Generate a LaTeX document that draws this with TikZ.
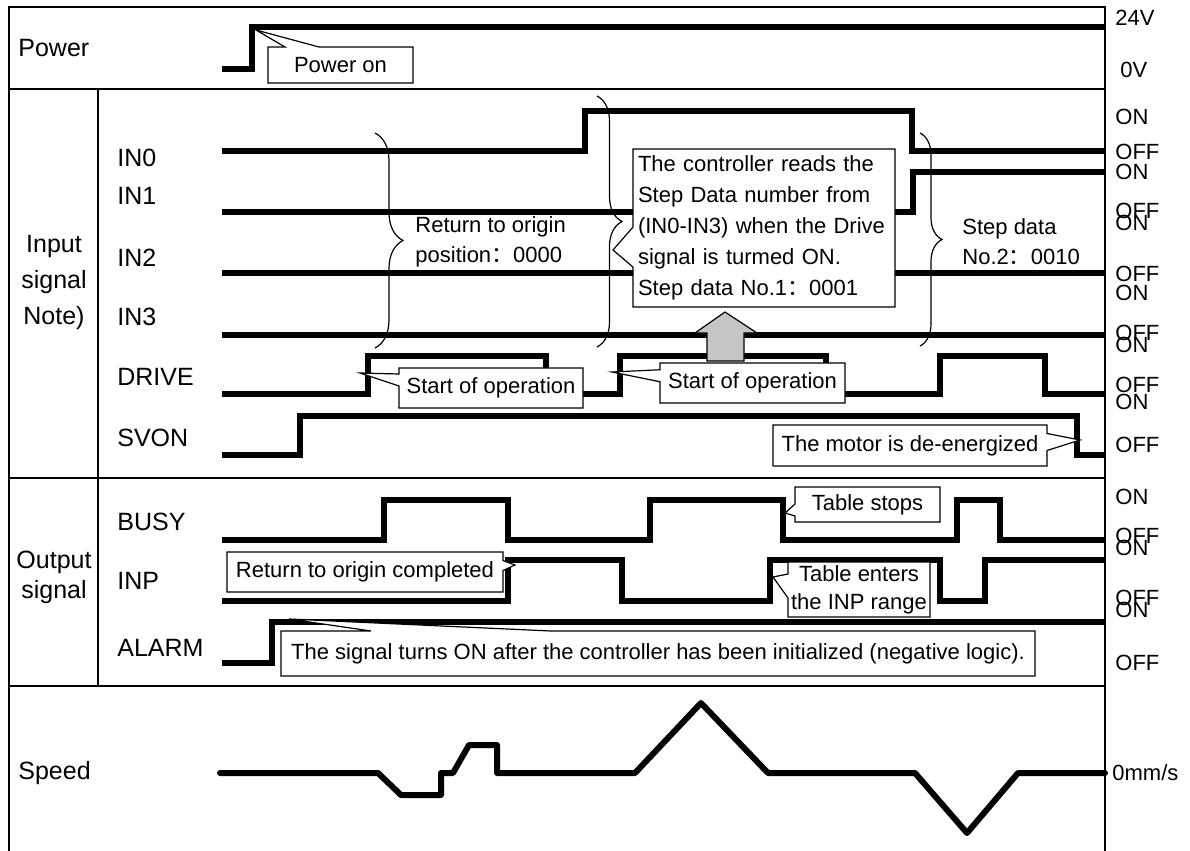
\documentclass[tikz,border=0pt]{standalone}
\usepackage{fontspec}
\setmainfont{Liberation Sans}
\newfontfamily\cjk{Noto Sans CJK SC}
\usetikzlibrary{shapes.callouts,decorations.pathreplacing}
\newcommand{\fwc}{{\cjk ：}}

\tikzset{
  sig/.style={line width=3pt,line join=miter},
  speed/.style={line width=3pt,line join=round,line cap=round},
  frame/.style={line width=0.8pt},
  lab/.style={anchor=base west,inner sep=0pt,font=\fontsize{12.5}{18}\selectfont},
  grp/.style={align=center,inner sep=0pt,font=\fontsize{12.5}{18}\selectfont},
  lvl/.style={anchor=base west,inner sep=0pt,font=\fontsize{11}{12}\selectfont},
  note/.style={rectangle callout,draw,line width=0.6pt,fill=white,inner sep=2pt,
    font=\fontsize{11}{14}\selectfont},
  curly/.style={decorate,line width=0.6pt},
  brtxt/.style={anchor=west,align=left,inner sep=0pt,font=\fontsize{11}{15}\selectfont},
}

\begin{document}
\begin{tikzpicture}[x=0.5pt,y=-0.5pt]
  \useasboundingbox (0,0) rectangle (1190,851);
  % frame
  \draw[frame] (9,851) -- (9,7) -- (1105,7) -- (1105,851);
  \foreach \y in {89,478,686}{\draw[frame] (9,\y) -- (1105,\y);}
  \draw[frame] (98,89) -- (98,686);

  % group labels
  \node[lab] (power) at (18,56) {Power};
  \node[grp] (insig) at (54,282) {Input\\signal\\Note)};
  \node[grp,font=\fontsize{12.5}{15}\selectfont] (outsig) at (54,577) {Output\\signal};
  \node[lab] (speed) at (18,779) {Speed};
  \foreach \n/\y in {IN0/166,IN1/204,IN2/266,IN3/325,DRIVE/385,SVON/446,BUSY/530,INP/589,ALARM/656}
    \node[lab] (\n) at (117,\y) {\n};

  % levels
  \foreach \x/\y/\t [count=\i] in {1115/25.5/24V,1120/77.5/0V,
      1115/124.5/ON,1115/159.5/OFF,1115/179.5/ON,1115/218.5/OFF,1115/230.5/ON,1115/281.5/OFF,
      1115/300.5/ON,1115/340.5/OFF,1115/352.5/ON,1115/392.5/OFF,1115/409.5/ON,1115/452.5/OFF,
      1115/504.5/ON,1115/543.5/OFF,1115/555.5/ON,1115/605.5/OFF,1115/617.5/ON,1115/670.5/OFF}
    \node[lvl] (lv\i) at (\x,\y) {\t};
  \node[lvl] (lvspeed) at (1112,780.5) {0mm/s};

  % signals
  \draw[sig] (222,69) -| (252,27) -- (1105,27);
  \draw[sig] (222,151) -| (585,111) -| (912,151) -- (1105,151);
  \draw[sig] (222,212) -| (913,172) -- (1105,172);
  \draw[sig] (222,273) -- (1105,273);
  \draw[sig] (222,335) -- (1105,335);
  \draw[sig] (222,394) -| (368,356) -| (546,394) -| (620,356) -| (826,394) -| (940,356) -| (1045,394) -- (1105,394);
  \draw[sig] (222,455) -| (300,416) -| (1077,455) -- (1105,455);
  \draw[sig] (222,540) -| (384,500) -| (508,540) -| (650,500) -| (783,540) -| (957,500) -| (1000,540) -- (1105,540);
  \draw[sig] (222,601) -| (508,560) -| (622,601) -| (770,560) -| (940,601) -| (985,560) -- (1105,560);
  \draw[sig] (222,663) -| (272,622) -- (1105,622);
  \draw[speed] (220,773) -- (378,773) -- (401,795) -- (441,795) -- (441,773) -- (453,773)
    -- (469,745) -- (497,745) -- (497,773) -- (635,773) -- (701,703) -- (768,773)
    -- (915,773) -- (967,833) -- (1018,773) -- (1105,773);

  % braces
  \draw[curly,decoration={brace,amplitude=14pt}] (375,133) -- (375,348);
  \draw[curly,decoration={brace,amplitude=12.5pt}] (597,96) -- (597,347);
  \draw[curly,decoration={brace,amplitude=11pt}] (920,133) -- (920,346);
  \node[brtxt] (origin) at (415,242) {Return to origin\\position\fwc 0000};
  \node[brtxt] (step2) at (962,242) {Step data\\No.2\fwc 0010};

  % arrow to the note
  \draw[fill=gray!45,line width=0.6pt] (707,361) -- (707,333) -- (695,333) -- (725,312)
    -- (757,333) -- (744,333) -- (744,361) -- cycle;

  % notes
  \node[note,minimum width=72.5pt,minimum height=18pt,callout absolute pointer={(256,30)},
    callout pointer width=17pt] (pwron) at (340.5,65) {Power on};
  \node[note,text width=126pt,align=left,minimum height=79pt,inner sep=2.5pt,
    font=\fontsize{11}{15.5}\selectfont,callout absolute pointer={(613,250)},
    callout pointer width=20pt] (reads) at (764,228)
    {The controller reads the\\Step Data number from\\(IN0-IN3) when the Drive\\signal is turmed ON.\\Step data No.1\fwc 0001};
  \node[note,minimum width=92pt,minimum height=20pt,callout absolute pointer={(360,373)},
    callout pointer width=6pt] (start1) at (491,388) {Start of operation};
  \node[note,minimum width=92.5pt,minimum height=20pt,callout absolute pointer={(612,372)},
    callout pointer width=6pt] (start2) at (752.5,383) {Start of operation};
  \node[note,minimum width=137pt,minimum height=20.5pt,callout absolute pointer={(1080,440)},
    callout pointer width=8.5pt] (motor) at (910,445.5) {The motor is de-energized};
  \node[note,minimum width=138pt,minimum height=20pt,callout absolute pointer={(515,565)},
    callout pointer width=5pt] (origdone) at (365,572) {Return to origin completed};
  \node[note,minimum width=72.5pt,minimum height=17.5pt,callout absolute pointer={(785,513)},
    callout pointer width=6pt] (tstop) at (867.5,504.5) {Table stops};
  \node[note,minimum width=71pt,minimum height=27.5pt,align=center,inner sep=1.5pt,
    callout absolute pointer={(773,577)},callout pointer width=12pt] (tinp) at (859,589.5)
    {Table enters\\the INP range};
  \node[note,minimum width=377pt,minimum height=22.5pt,callout absolute pointer={(289,619)},
    callout pointer width=90pt] (alarmnote) at (658,653.5)
    {The signal turns ON after the controller has been initialized (negative logic).};
\end{tikzpicture}
\end{document}
